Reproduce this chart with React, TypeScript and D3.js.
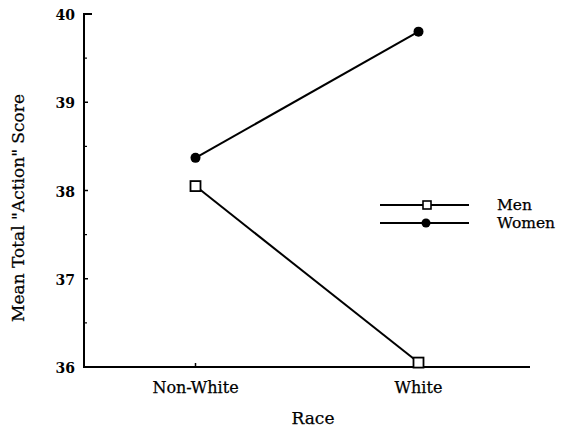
import React from "react";
import * as d3 from "d3";

// Race categories on the x axis
const races = ["Non-White", "White"];
// Mean total "Action" score per race
const menScores = [38.05, 36.05];
const womenScores = [38.37, 39.8];
const yTicks = [36, 37, 38, 39, 40];
const yMinorTicks = [36.5, 37.5, 38.5, 39.5];

const W = 564;
const H = 428;
const FONT = "'DejaVu Serif', 'Liberation Serif', serif";

export default function App() {
  const x = d3.scalePoint<string>().domain(races).range([84, 530]).padding(0.5);
  const y = d3.scaleLinear().domain([36, 40]).range([367, 14]);

  const line = d3
    .line<number>()
    .x((_, i) => x(races[i]) as number)
    .y((d) => y(d));

  const sq = 10;

  return (
    <svg
      width={W}
      height={H}
      style={{ position: "absolute", left: 0, top: 0, background: "#fff" }}
      fontFamily={FONT}
    >
      {/* y axis */}
      <line x1={84} x2={84} y1={y(40)} y2={y(36)} stroke="#000" strokeWidth={2} />
      <line x1={83} x2={92} y1={y(40)} y2={y(40)} stroke="#000" strokeWidth={2} />
      {yTicks.slice(0, -1).map((t) => (
        <line key={t} x1={84} x2={88} y1={y(t)} y2={y(t)} stroke="#000" strokeWidth={1.5} />
      ))}
      {yMinorTicks.map((t) => (
        <line key={t} x1={84} x2={87} y1={y(t)} y2={y(t)} stroke="#000" strokeWidth={1.2} />
      ))}
      {yTicks.map((t) => (
        <text
          key={t}
          x={75}
          y={y(t) + 6}
          textAnchor="end"
          fontSize={14}
          fontWeight="bold"
          fill="#000"
        >
          {t}
        </text>
      ))}

      {/* x axis */}
      <line x1={83} x2={530} y1={y(36)} y2={y(36)} stroke="#000" strokeWidth={2} />
      {races.map((r) => (
        <line
          key={r}
          x1={x(r)}
          x2={x(r)}
          y1={y(36)}
          y2={y(36) - 4}
          stroke="#000"
          strokeWidth={1.5}
        />
      ))}
      {races.map((r) => (
        <text
          key={r}
          x={x(r)}
          y={393}
          textAnchor="middle"
          fontSize={16}
          fill="#000"
          stroke="#000"
          strokeWidth={0.25}
        >
          {r}
        </text>
      ))}

      {/* axis titles */}
      <text
        x={313}
        y={424}
        textAnchor="middle"
        fontSize={17}
        fill="#000"
        stroke="#000"
        strokeWidth={0.25}
      >
        Race
      </text>
      <text
        transform={`translate(24, 208) rotate(-90)`}
        textAnchor="middle"
        fontSize={17}
        fill="#000"
        stroke="#000"
        strokeWidth={0.25}
      >
        Mean Total "Action" Score
      </text>

      {/* series lines */}
      <path d={line(menScores) as string} fill="none" stroke="#000" strokeWidth={2} />
      <path d={line(womenScores) as string} fill="none" stroke="#000" strokeWidth={2} />

      {/* markers */}
      {womenScores.map((v, i) => (
        <circle key={i} cx={x(races[i])} cy={y(v)} r={5} fill="#000" />
      ))}
      {menScores.map((v, i) => (
        <rect
          key={i}
          x={(x(races[i]) as number) - sq / 2}
          y={y(v) - sq / 2}
          width={sq}
          height={sq}
          fill="#fff"
          stroke="#000"
          strokeWidth={1.8}
        />
      ))}

      {/* legend */}
      <line x1={380} x2={469} y1={205} y2={205} stroke="#000" strokeWidth={2} />
      <rect x={423} y={201} width={8} height={8} fill="#fff" stroke="#000" strokeWidth={1.6} />
      <line x1={380} x2={469} y1={223} y2={223} stroke="#000" strokeWidth={2} />
      <circle cx={426} cy={223} r={4.5} fill="#000" />
      <text x={497} y={210} fontSize={15.5} fill="#000" stroke="#000" strokeWidth={0.25}>
        Men
      </text>
      <text x={497} y={228} fontSize={15.5} fill="#000" stroke="#000" strokeWidth={0.25}>
        Women
      </text>
    </svg>
  );
}
